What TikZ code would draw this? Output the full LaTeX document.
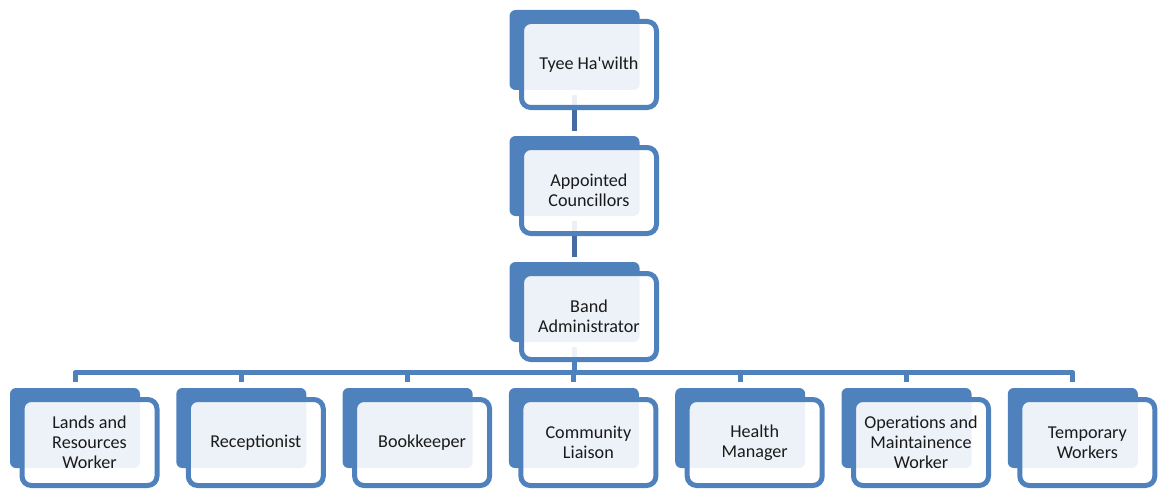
\documentclass[tikz,border=0pt]{standalone}
\usepackage{fontspec}
\setmainfont{Carlito}[Ligatures=TeXOff]
\usepackage{xcolor}
\definecolor{orgblue}{RGB}{79,129,189}
\definecolor{orgline}{RGB}{66,108,162}
\definecolor{orgink}{RGB}{26,26,26}
\usepackage{tikz}
\usetikzlibrary{positioning}
\tikzset{
  backbox/.style={rectangle,rounded corners=4.5pt,fill=orgblue,minimum width=97.5pt,minimum height=60pt,inner sep=0pt},
  frontbox/.style={rectangle,rounded corners=7pt,draw=orgblue,line width=3.75pt,fill=white,fill opacity=0.9,text opacity=1,
    minimum width=101.25pt,minimum height=64.5pt,inner sep=2pt,align=center,text=orgink,font=\fontsize{13.6}{15}\selectfont},
  link/.style={draw=orgline,line width=3.75pt,shorten <=3.75pt,shorten >=3.75pt},
  buslink/.style={draw=orgblue,line width=3.75pt,line join=round,shorten >=4pt}
}
\begin{document}
\begin{tikzpicture}[x=0.75pt,y=-0.75pt]
\useasboundingbox (0,0) rectangle (1160,492);
\node[backbox] (top) at (574.5,50) {};
\node[backbox] (council) at (574.5,176) {};
\node[backbox] (admin) at (574.5,302) {};
\foreach \i in {1,...,7}
  \node[backbox] (staff\i) at ({75+166.3*(\i-1)},428) {};
\coordinate (bus) at (574.5,372.5);
\draw[link] (top) -- (council);
\draw[link] (council) -- (admin);
\draw[buslink,shorten >=0pt,shorten <=3.75pt] (admin) -- (bus);
\foreach \i in {1,...,7}
  \draw[buslink] (bus) -| (staff\i.north);
\node[frontbox] (topF) at ([shift={(14.5,14.5)}]top.center) {Tyee Ha'wilth};
\node[frontbox] (councilF) at ([shift={(14.5,14.5)}]council.center) {Appointed\\Councillors};
\node[frontbox] (adminF) at ([shift={(14.5,14.5)}]admin.center) {Band\\Administrator};
\foreach \i/\t in {1/{Lands and\\Resources\\Worker},2/{Receptionist},3/{Bookkeeper},4/{Community\\Liaison},
    5/{Health\\Manager},6/{Operations and\\Maintainence\\Worker},7/{Temporary\\Workers}}
  \node[frontbox] (staff\i F) at ([shift={(14.5,14.5)}]staff\i.center) {\t};
\end{tikzpicture}
\end{document}
